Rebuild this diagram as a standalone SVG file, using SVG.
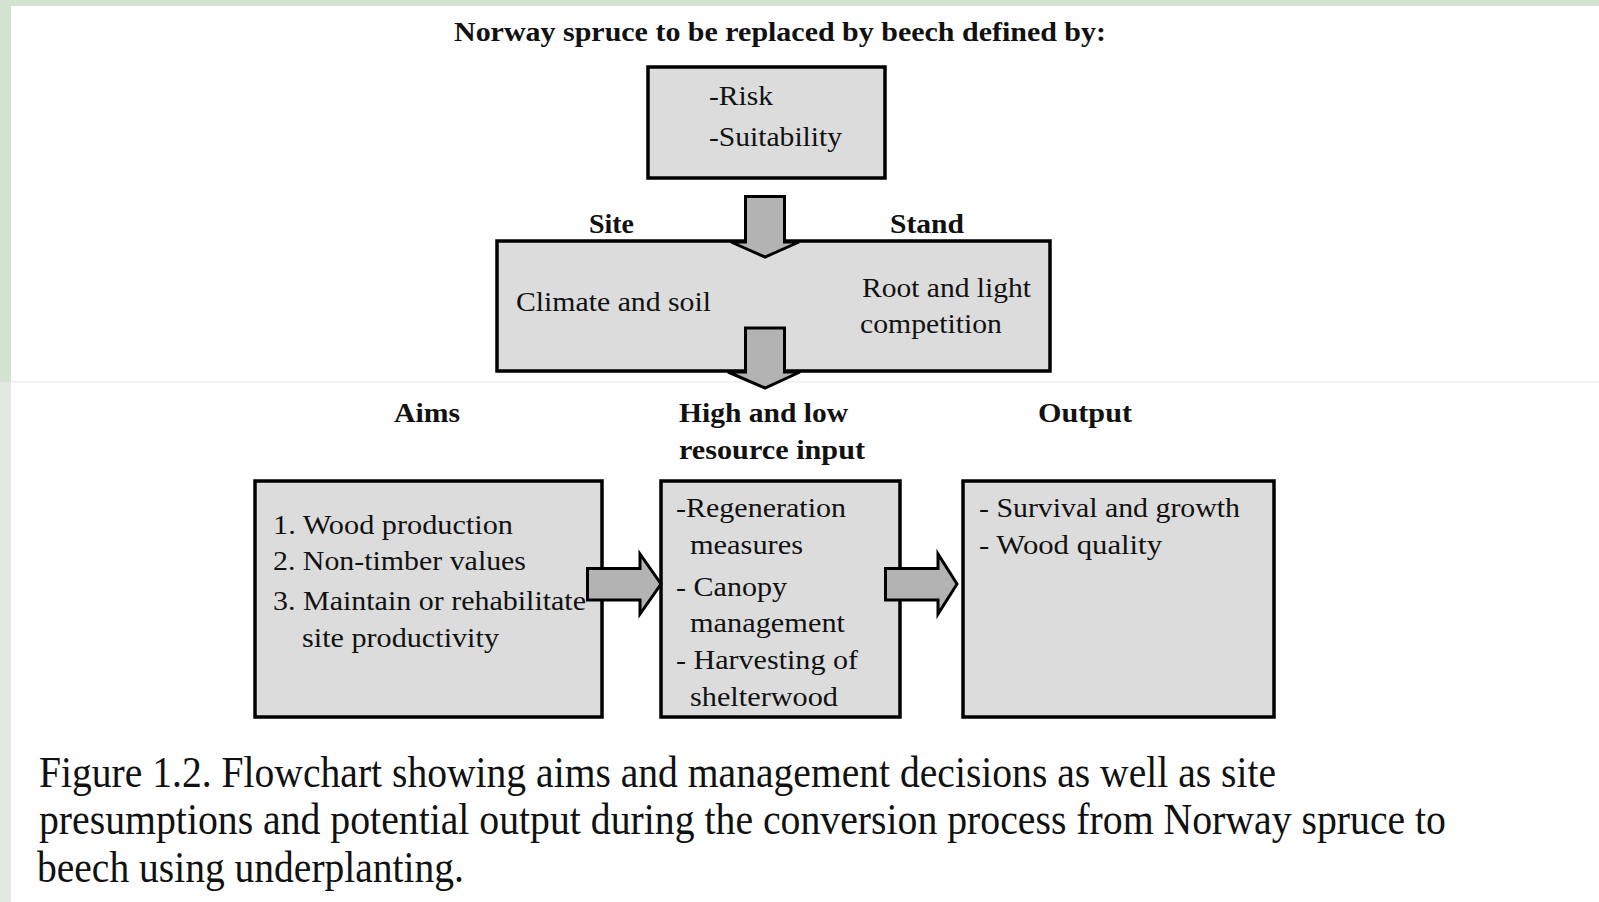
<svg xmlns="http://www.w3.org/2000/svg" width="1599" height="902" viewBox="0 0 1599 902">
<style>
.bg{fill:#ffffff}
.box{fill:#dcdcdc;stroke:#000;stroke-width:3.5}
.arr{fill:#b3b3b3;stroke:#000;stroke-width:3;stroke-linejoin:miter}
.t{font-family:"Liberation Serif","Times New Roman",serif;font-size:28px;fill:#111}
.b{font-family:"Liberation Serif","Times New Roman",serif;font-size:28px;font-weight:bold;fill:#111}
.cap{font-family:"Liberation Serif","Times New Roman",serif;font-size:44px;fill:#111}
</style>
<rect x="0" y="0" width="1599" height="902" fill="#d3e2d1"/>
<rect x="0" y="382" width="11" height="520" fill="#e3e8e3"/>
<rect class="bg" x="11" y="6" width="1588" height="896"/>
<line x1="11" y1="382" x2="1599" y2="382" stroke="#efefef" stroke-width="1.5"/>

<text class="b" x="454" y="41" textLength="652" lengthAdjust="spacingAndGlyphs">Norway spruce to be replaced by beech defined by:</text>

<g id="node-criteria">
<rect class="box" x="648" y="67" width="237" height="111"/>
<text class="t" x="709" y="105" textLength="64" lengthAdjust="spacingAndGlyphs">-Risk</text>
<text class="t" x="709" y="146" textLength="133" lengthAdjust="spacingAndGlyphs">-Suitability</text>
</g>

<g id="labels-site-stand">
<text class="b" x="589" y="233" textLength="45" lengthAdjust="spacingAndGlyphs">Site</text>
<text class="b" x="890" y="233" textLength="74" lengthAdjust="spacingAndGlyphs">Stand</text>
</g>

<g id="node-site-stand">
<rect class="box" x="497" y="241" width="553" height="130"/>
<text class="t" x="516" y="311" textLength="195" lengthAdjust="spacingAndGlyphs">Climate and soil</text>
<text class="t" x="862" y="297" textLength="169" lengthAdjust="spacingAndGlyphs">Root and light</text>
<text class="t" x="860" y="333" textLength="142" lengthAdjust="spacingAndGlyphs">competition</text>
</g>

<g id="column-labels">
<text class="b" x="394" y="422" textLength="66" lengthAdjust="spacingAndGlyphs">Aims</text>
<text class="b" x="679" y="422" textLength="169" lengthAdjust="spacingAndGlyphs">High and low</text>
<text class="b" x="679" y="459" textLength="186" lengthAdjust="spacingAndGlyphs">resource input</text>
<text class="b" x="1038" y="422" textLength="94" lengthAdjust="spacingAndGlyphs">Output</text>
</g>

<g id="node-aims">
<rect class="box" x="255" y="481" width="347" height="236"/>
<text class="t" x="273" y="534" textLength="240" lengthAdjust="spacingAndGlyphs">1. Wood production</text>
<text class="t" x="273" y="570" textLength="253" lengthAdjust="spacingAndGlyphs">2. Non-timber values</text>
<text class="t" x="273" y="610" textLength="313" lengthAdjust="spacingAndGlyphs">3. Maintain or rehabilitate</text>
<text class="t" x="302" y="647" textLength="197" lengthAdjust="spacingAndGlyphs">site productivity</text>
</g>

<g id="node-input">
<rect class="box" x="661" y="481" width="239" height="236"/>
<text class="t" x="676" y="517" textLength="170" lengthAdjust="spacingAndGlyphs">-Regeneration</text>
<text class="t" x="690" y="554" textLength="113" lengthAdjust="spacingAndGlyphs">measures</text>
<text class="t" x="676" y="596" textLength="111" lengthAdjust="spacingAndGlyphs">- Canopy</text>
<text class="t" x="690" y="632" textLength="155" lengthAdjust="spacingAndGlyphs">management</text>
<text class="t" x="676" y="669" textLength="182" lengthAdjust="spacingAndGlyphs">- Harvesting of</text>
<text class="t" x="690" y="706" textLength="148" lengthAdjust="spacingAndGlyphs">shelterwood</text>
</g>

<g id="node-output">
<rect class="box" x="963" y="481" width="311" height="236"/>
<text class="t" x="979" y="517" textLength="261" lengthAdjust="spacingAndGlyphs">- Survival and growth</text>
<text class="t" x="979" y="554" textLength="183" lengthAdjust="spacingAndGlyphs">- Wood quality</text>
</g>

<g id="connectors">
<polygon class="arr" points="745.5,196.5 784.5,196.5 784.5,242 799,242 765,257 731,242 745.5,242"/>
<polygon class="arr" points="745.5,328 784.5,328 784.5,372 800,372 765,388 728,372 745.5,372"/>
<polygon class="arr" points="587.5,568.5 640,568.5 640,554 661,584 640,614 640,600 587.5,600"/>
<polygon class="arr" points="885.5,568.5 938,568.5 938,554 957,584 938,614 938,600 885.5,600"/>
</g>

<g id="caption">
<text class="cap" x="39" y="787" textLength="1237" lengthAdjust="spacingAndGlyphs">Figure 1.2. Flowchart showing aims and management decisions as well as site</text>
<text class="cap" x="39" y="834" textLength="1407" lengthAdjust="spacingAndGlyphs">presumptions and potential output during the conversion process from Norway spruce to</text>
<text class="cap" x="37" y="882" textLength="427" lengthAdjust="spacingAndGlyphs">beech using underplanting.</text>
</g>
</svg>
